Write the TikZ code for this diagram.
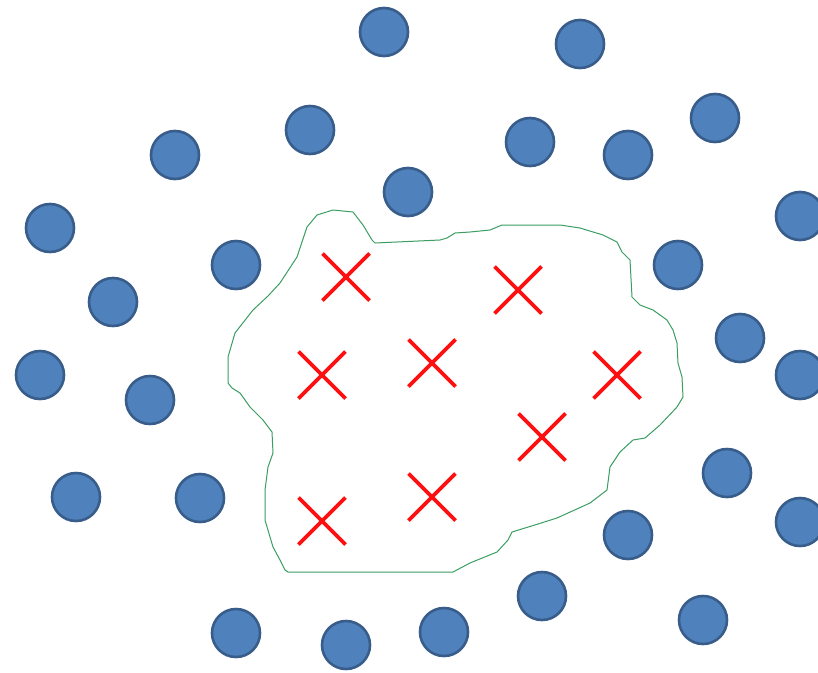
\documentclass[tikz,border=0pt]{standalone}
\usetikzlibrary{shapes.misc}
\definecolor{dotfill}{HTML}{4F81BD}
\definecolor{dotedge}{HTML}{385D8A}
\definecolor{hitred}{HTML}{FF1010}
\definecolor{rimgreen}{HTML}{3A9E62}

\begin{document}
\begin{tikzpicture}[x=1pt,y=-1pt,
  dot/.style={circle,fill=dotfill,draw=dotedge,line width=2.6pt,minimum size=48pt,inner sep=0pt},
  hit/.style={cross out,draw=hitred,line width=3.8pt,minimum size=47pt,inner sep=0pt,outer sep=0pt},
  rim/.style={draw=rimgreen,line width=1pt,line join=round}]
  \useasboundingbox[fill=white] (0,0) rectangle (818,672);

  % outer points
  \foreach \n/\x/\y in {a/384/32, b/580/44, c/310/130, d/175/155, e/530/142,
      f/628/155, g/715/118, h/408/192, i/50/228, j/800/216, k/236/265,
      l/678/265, m/113/302, n/740/338, o/40/375, p/150/400, q/800/375,
      r/76/497, s/200/498, t/727/473, u/800/522, v/628/535, w/542/596,
      x/236/633, y/346/645, z/444/632, zz/703/620}
    \node[dot] (dot-\n) at (\x,\y) {};

  % boundary
  \draw[rim] (375,243) -- (440,240) -- (447,238) -- (455,233) -- (470,232)
    -- (490,230) -- (502,225) -- (560,225) -- (580,228) -- (603,235)
    -- (617,242) -- (622,252) -- (630,260) -- (632,297) -- (640,305)
    -- (653,310) -- (667,320) -- (673,330) -- (677,343) -- (678,363)
    -- (682,377) -- (683,397) -- (677,407) -- (660,425) -- (645,438)
    -- (633,440) -- (620,452) -- (610,467) -- (607,490) -- (590,503)
    -- (557,518) -- (538,524) -- (512,532) -- (508,540) -- (497,552)
    -- (470,563) -- (453,572) -- (288,572) -- (285,570) -- (280,560)
    -- (273,547) -- (265,520) -- (265,490) -- (268,467) -- (273,453)
    -- (272,432) -- (263,420) -- (250,407) -- (240,393) -- (232,388)
    -- (228,383) -- (228,357) -- (235,333) -- (253,310) -- (268,296)
    -- (280,283) -- (297,257) -- (307,227) -- (317,215) -- (333,210)
    -- (353,212) -- (363,225) -- (372,240) -- cycle;

  % inner points
  \foreach \n/\x/\y in {a/346/277, b/518/290, c/322/375, d/432/363,
      e/617/375, f/542/437, g/432/497, h/322/521}
    \node[hit] (hit-\n) at (\x,\y) {};
\end{tikzpicture}
\end{document}
